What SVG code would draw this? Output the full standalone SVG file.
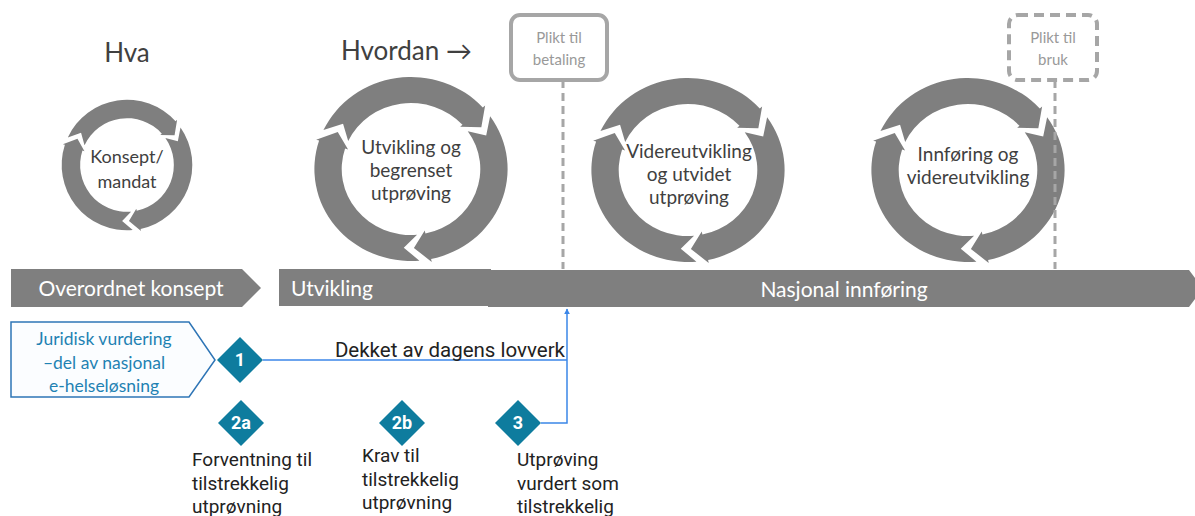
<svg xmlns="http://www.w3.org/2000/svg" xmlns:xlink="http://www.w3.org/1999/xlink" width="1195" height="516" viewBox="0 0 1195 516">
<style>
.ring{fill:#7F7F7F;stroke:none}
.ctext{font-family:Lato,"Liberation Sans",sans-serif;font-size:19px;fill:#404040;text-anchor:middle}
.head{font-family:Lato,"Liberation Sans",sans-serif;font-size:26px;fill:#404040}
.bar{fill:#7F7F7F}
.btext{font-family:Lato,"Liberation Sans",sans-serif;font-size:21px;fill:#FFFFFF}
.plikt{fill:#FFFFFF;stroke:#A6A6A6;stroke-width:4}
.ptext{font-family:Lato,"Liberation Sans",sans-serif;font-size:15px;fill:#999999;text-anchor:middle}
.dash{stroke:#A6A6A6;stroke-width:3;stroke-dasharray:8 5;fill:none}
.dia{fill:#0E7C9E}
.dnum{font-family:Roboto,"Liberation Sans",sans-serif;font-size:18px;font-weight:bold;fill:#FFFFFF;text-anchor:middle}
.rtext{font-family:Roboto,"Liberation Sans",sans-serif;font-size:19px;fill:#222222}
.jtext{font-family:Lato,"Liberation Sans",sans-serif;font-size:17.5px;fill:#1F82B3;text-anchor:middle}
.conn{stroke:#3B86E8;stroke-width:1.5;fill:none}
</style>
<defs>
<path id="seg" d="M-85.89,-32.97 A92,92 0 0 1 63.91,-66.18 L65.99,-68.34 L63.91,-46.44 L43.76,-45.32 L45.85,-47.48 A66,66 0 0 0 -61.62,-23.65 L-67.72,-40.69 Z"/>
<g id="cycle">
<use xlink:href="#seg" href="#seg" class="ring" transform="rotate(4)"/>
<use xlink:href="#seg" href="#seg" class="ring" transform="rotate(124)"/>
<use xlink:href="#seg" href="#seg" class="ring" transform="rotate(244)"/>
</g>
<path id="dia" d="M0,-23 L23,0 L0,23 L-23,0 Z"/>
<marker id="arr" viewBox="0 0 10 10" refX="9" refY="5" markerWidth="6" markerHeight="7" orient="auto" markerUnits="userSpaceOnUse">
<path d="M0,0 L10,5 L0,10 Z" fill="#3B86E8"/>
</marker>
</defs>

<g id="headings">
<text class="head" x="127" y="62" text-anchor="middle">Hva</text>
<text class="head" x="341" y="60">Hvordan →</text>
</g>

<g id="cycle1">
<use xlink:href="#cycle" href="#cycle" transform="translate(127,165) scale(0.71)"/>
<text class="ctext" x="127" y="163" style="font-size:18px">Konsept/</text>
<text class="ctext" x="127" y="188" style="font-size:18px">mandat</text>
</g>
<g id="cycle2">
<use xlink:href="#cycle" href="#cycle" transform="translate(411,169) scale(1.05,1)"/>
<text class="ctext" x="411" y="154">Utvikling og</text>
<text class="ctext" x="411" y="177">begrenset</text>
<text class="ctext" x="411" y="200">utprøving</text>
</g>
<g id="cycle3">
<use xlink:href="#cycle" href="#cycle" transform="translate(688,170) scale(1.05,1)"/>
<text class="ctext" x="689" y="158">Videreutvikling</text>
<text class="ctext" x="689" y="181">og utvidet</text>
<text class="ctext" x="689" y="204">utprøving</text>
</g>
<g id="cycle4">
<use xlink:href="#cycle" href="#cycle" transform="translate(968,170) scale(1.05,1)"/>
<text class="ctext" x="968" y="161">Innføring og</text>
<text class="ctext" x="968" y="184">videreutvikling</text>
</g>

<g id="plikt-betaling">
<line class="dash" x1="563" y1="80" x2="563" y2="269"/>
<rect class="plikt" x="511" y="15" width="96" height="65" rx="9"/>
<text class="ptext" x="559" y="43">Plikt til</text>
<text class="ptext" x="559" y="65">betaling</text>
</g>
<g id="plikt-bruk">
<line class="dash" x1="1055" y1="80" x2="1055" y2="269"/>
<rect class="plikt" x="1009" y="15" width="88" height="65" rx="9" stroke-dasharray="10 6"/>
<text class="ptext" x="1053" y="43">Plikt til</text>
<text class="ptext" x="1053" y="65">bruk</text>
</g>

<g id="bar-overordnet">
<polygon class="bar" points="11,269 242,269 261,288 242,307 11,307"/>
<text class="btext" x="131" y="296" text-anchor="middle">Overordnet konsept</text>
</g>
<g id="bar-utvikling">
<rect class="bar" x="279" y="269" width="212" height="37"/>
<text class="btext" x="291" y="296">Utvikling</text>
</g>
<g id="bar-nasjonal">
<polygon class="bar" points="488,270 1189,270 1195,278 1195,299 1189,307 488,307"/>
<text class="btext" x="844" y="297" text-anchor="middle">Nasjonal innføring</text>
</g>

<g id="juridisk">
<polygon points="11,322 189,322 215,360 189,397 11,397" fill="#FBFDFF" stroke="#2E75B6" stroke-width="1.5"/>
<text class="jtext" x="104" y="345">Juridisk vurdering</text>
<text class="jtext" x="104" y="369">–del av nasjonal</text>
<text class="jtext" x="104" y="392">e-helseløsning</text>
</g>

<g id="connectors">
<line class="conn" x1="263" y1="360" x2="567" y2="360"/>
<polyline class="conn" points="541,423 567,423 567,309" marker-end="url(#arr)"/>
</g>
<text class="rtext" x="565" y="357" text-anchor="end" style="font-size:20.5px">Dekket av dagens lovverk</text>

<g id="d1">
<use xlink:href="#dia" href="#dia" class="dia" transform="translate(240,360)"/>
<text class="dnum" x="240" y="366">1</text>
</g>
<g id="d2a">
<use xlink:href="#dia" href="#dia" class="dia" transform="translate(241,423)"/>
<text class="dnum" x="241" y="429">2a</text>
<text class="rtext" x="192" y="466">Forventning til</text>
<text class="rtext" x="192" y="490">tilstrekkelig</text>
<text class="rtext" x="192" y="513">utprøvning</text>
</g>
<g id="d2b">
<use xlink:href="#dia" href="#dia" class="dia" transform="translate(402,423)"/>
<text class="dnum" x="402" y="429">2b</text>
<text class="rtext" x="362" y="462">Krav til</text>
<text class="rtext" x="362" y="486">tilstrekkelig</text>
<text class="rtext" x="362" y="509">utprøvning</text>
</g>
<g id="d3">
<use xlink:href="#dia" href="#dia" class="dia" transform="translate(518,423)"/>
<text class="dnum" x="518" y="429">3</text>
<text class="rtext" x="517" y="466">Utprøving</text>
<text class="rtext" x="517" y="490">vurdert som</text>
<text class="rtext" x="517" y="513">tilstrekkelig</text>
</g>
</svg>
